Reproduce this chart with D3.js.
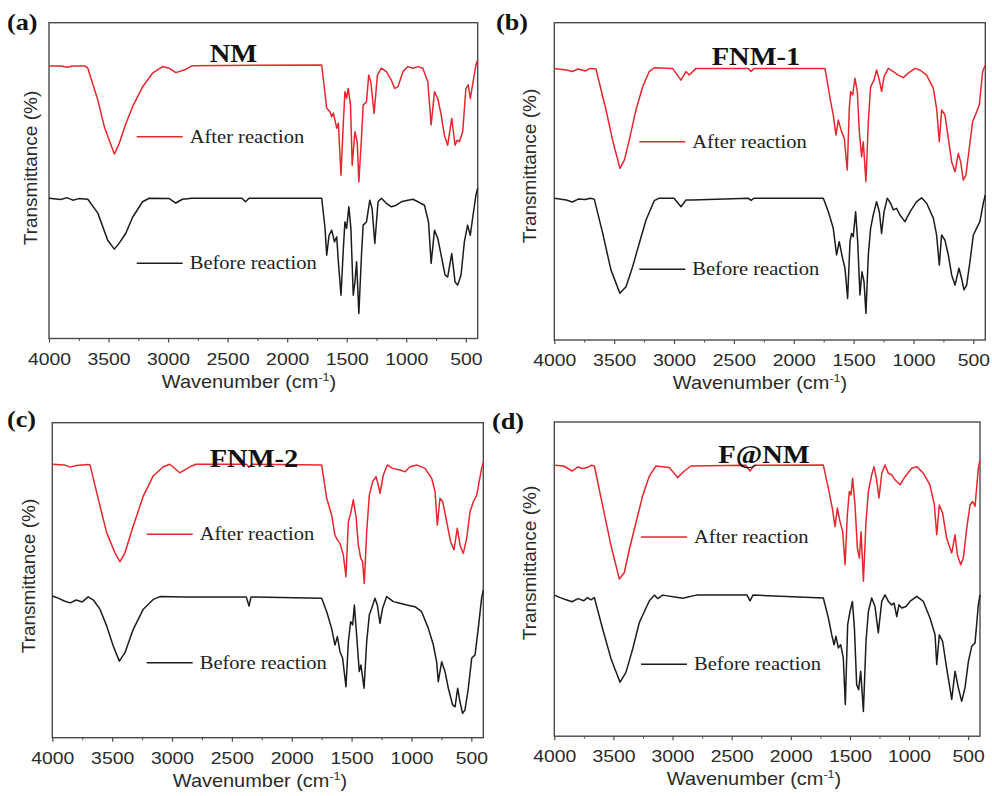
<!DOCTYPE html>
<html>
<head>
<meta charset="utf-8">
<script src="https://cdn.jsdelivr.net/npm/d3@7"></script>
<style>
  html, body { margin: 0; padding: 0; background: #fff; }
  svg { display: block; }
</style>
</head>
<body>
<svg id="chart" width="992" height="796"></svg>
<script>
// ---------------- DATA ----------------
const panelLetters = ["(a)", "(b)", "(c)", "(d)"];
const sampleNames = ["NM", "FNM-1", "FNM-2", "F@NM"];
const seriesNames = ["After reaction", "Before reaction"];
const xMajorTicks = [4000, 3500, 3000, 2500, 2000, 1500, 1000, 500];
const xMinorTicks = [3750, 3250, 2750, 2250, 1750, 1250, 750];
const xDomain = [4000, 400];
const yDomain = [0, 100];

// [wavenumber (cm-1), relative transmittance]
const nmAfter = [[4000,86.3],[3900,86.3],[3850,85.9],[3800,86.3],[3700,86.3],[3674,85.6],[3590,75.5],[3535,67.0],[3451,58.4],[3410,61.8],[3354,68.1],[3298,73.4],[3214,79.7],[3131,84.0],[3047,86.1],[2991,85.6],[2935,84.2],[2852,85.2],[2796,86.4],[1710,86.6],[1668,72.9],[1640,71.8],[1626,70.2],[1612,71.4],[1584,66.6],[1570,68.2],[1548,51.7],[1528,68.6],[1515,78.1],[1501,76.1],[1487,79.2],[1468,73.9],[1454,54.9],[1431,65.5],[1412,62.3],[1398,49.6],[1376,63.5],[1362,73.9],[1334,75.0],[1315,83.4],[1298,81.3],[1270,71.3],[1242,83.4],[1209,85.6],[1167,84.5],[1125,81.8],[1097,79.2],[1070,79.7],[1028,84.5],[986,86.1],[944,85.6],[902,86.1],[861,85.6],[819,81.3],[791,67.6],[763,78.1],[735,76.0],[707,70.8],[680,64.4],[652,61.2],[618,69.7],[590,61.2],[574,62.8],[554,62.3],[526,65.5],[499,79.2],[479,80.3],[462,76.0],[443,80.3],[415,86.6],[400,88.2]];
const nmBefore = [[4000,44.4],[3900,44.0],[3850,44.6],[3800,43.8],[3750,44.3],[3674,44.1],[3590,39.7],[3507,31.1],[3451,28.3],[3410,30.2],[3354,33.4],[3298,38.4],[3214,43.3],[3159,44.4],[2990,44.3],[2935,42.9],[2880,44.1],[2800,44.4],[2380,44.4],[2350,43.3],[2320,44.4],[1710,44.4],[1682,34.9],[1668,26.4],[1648,32.7],[1626,34.3],[1603,30.6],[1584,32.2],[1570,24.3],[1548,13.7],[1528,28.6],[1515,36.9],[1501,34.9],[1482,41.7],[1465,34.9],[1445,13.7],[1431,17.9],[1417,24.3],[1398,7.9],[1376,26.4],[1362,35.9],[1334,36.9],[1306,43.8],[1287,41.2],[1264,30.1],[1237,43.3],[1209,44.4],[1167,42.8],[1125,41.7],[1084,42.2],[1042,43.3],[986,43.8],[944,44.1],[902,43.3],[847,42.2],[813,36.9],[791,23.8],[763,34.3],[735,31.7],[707,26.4],[674,20.1],[652,19.5],[618,26.9],[590,17.9],[568,16.9],[540,20.1],[512,30.6],[485,35.9],[462,32.7],[443,38.0],[415,45.4],[400,47.6]];

const fnm1After = [[4000,85.6],[3900,85.1],[3850,84.6],[3800,85.4],[3740,84.8],[3700,85.6],[3652,85.4],[3568,72.5],[3513,63.0],[3452,54.1],[3415,56.7],[3374,63.0],[3318,72.5],[3262,79.8],[3207,84.6],[3165,85.8],[3012,85.6],[2942,81.9],[2900,84.6],[2872,83.5],[2817,85.6],[2380,85.6],[2357,84.6],[2330,85.6],[1739,85.6],[1697,76.2],[1670,70.9],[1647,64.6],[1628,69.3],[1600,65.6],[1578,63.6],[1553,53.6],[1536,73.0],[1525,78.3],[1508,77.2],[1489,82.5],[1469,78.3],[1452,65.6],[1433,57.8],[1419,62.5],[1397,49.9],[1377,68.8],[1358,79.8],[1330,81.9],[1308,85.1],[1285,81.9],[1266,78.3],[1246,83.0],[1210,85.6],[1168,84.6],[1127,83.5],[1085,82.7],[1043,84.1],[988,85.6],[946,85.1],[890,83.5],[834,79.3],[807,73.0],[784,62.5],[765,72.5],[737,70.9],[709,63.6],[681,56.2],[653,53.0],[626,58.8],[606,56.2],[584,50.4],[562,52.0],[534,60.4],[506,68.8],[478,71.4],[450,74.1],[422,84.6],[400,86.7]];
const fnm1Before = [[4000,44.7],[3900,44.1],[3850,43.5],[3800,44.4],[3740,44.3],[3700,44.7],[3666,44.4],[3596,33.7],[3527,22.1],[3452,14.7],[3401,16.8],[3346,23.1],[3290,30.5],[3234,37.8],[3165,43.9],[3123,44.7],[3000,44.7],[2942,42.0],[2900,44.1],[2845,44.1],[2380,44.7],[2357,44.0],[2330,44.7],[1753,44.7],[1711,40.4],[1670,35.2],[1642,26.8],[1620,31.0],[1592,25.7],[1572,22.6],[1550,13.1],[1530,31.0],[1517,33.6],[1503,32.6],[1483,40.4],[1466,31.0],[1447,14.2],[1430,21.5],[1413,18.4],[1397,8.4],[1377,26.8],[1358,35.2],[1336,39.4],[1308,43.6],[1285,40.4],[1266,33.6],[1246,40.4],[1219,44.7],[1191,43.1],[1168,41.0],[1141,41.5],[1113,39.4],[1071,37.3],[1029,40.4],[974,43.6],[932,44.8],[890,43.1],[834,38.4],[807,33.1],[784,23.6],[765,33.1],[737,31.5],[709,26.8],[681,20.5],[653,17.3],[620,22.6],[598,19.4],[578,15.8],[556,17.3],[528,24.7],[500,33.1],[473,35.2],[445,37.3],[417,43.1],[400,45.7]];

const fnm2After = [[4000,86.8],[3900,86.6],[3850,85.9],[3800,86.4],[3700,86.7],[3685,86.6],[3602,73.6],[3546,65.1],[3477,58.7],[3435,55.9],[3393,58.7],[3324,67.2],[3240,76.7],[3157,83.1],[3073,86.0],[3018,86.8],[2935,84.1],[2851,86.0],[2800,86.8],[2380,86.8],[2357,85.9],[2330,86.8],[1750,86.6],[1708,76.0],[1667,70.7],[1639,64.3],[1619,62.8],[1597,61.7],[1569,58.0],[1547,51.1],[1527,68.6],[1508,71.2],[1486,75.5],[1463,70.2],[1444,61.2],[1424,57.0],[1408,55.9],[1394,49.0],[1374,65.4],[1352,77.0],[1324,81.3],[1296,82.9],[1277,80.2],[1263,77.6],[1235,83.4],[1202,86.6],[1157,85.5],[1096,85.0],[1054,84.4],[1012,86.0],[957,86.6],[887,85.5],[831,82.3],[803,78.1],[784,67.5],[762,76.0],[739,74.9],[706,68.6],[673,62.2],[645,59.6],[617,66.5],[595,61.2],[567,58.5],[539,63.3],[511,71.7],[483,74.9],[455,77.0],[414,85.5],[400,87.5]];
const fnm2Before = [[4000,45.0],[3950,44.3],[3900,43.4],[3850,42.8],[3800,43.7],[3750,43.1],[3700,44.7],[3657,43.7],[3602,40.8],[3546,35.5],[3491,29.1],[3440,24.3],[3393,27.0],[3324,34.4],[3240,40.8],[3157,43.9],[3101,44.8],[2900,44.7],[2380,44.7],[2357,41.8],[2340,44.7],[1750,44.3],[1708,40.0],[1667,34.7],[1639,29.4],[1619,32.1],[1597,27.3],[1575,25.2],[1547,16.2],[1527,30.5],[1508,36.8],[1491,35.8],[1477,42.1],[1458,32.6],[1436,21.0],[1422,23.1],[1396,15.7],[1374,30.5],[1352,39.0],[1332,41.1],[1305,44.3],[1285,42.1],[1263,36.3],[1241,41.1],[1207,44.8],[1151,43.2],[1096,42.7],[1040,42.1],[971,41.6],[915,40.0],[859,34.7],[817,29.4],[790,24.1],[776,17.8],[748,24.1],[720,21.0],[692,15.7],[656,10.4],[636,9.8],[614,15.7],[595,11.4],[573,7.7],[553,8.8],[525,15.7],[497,25.2],[469,26.3],[442,34.7],[414,44.3],[400,46.9]];

const fanmAfter = [[4000,86.2],[3920,86.0],[3850,84.4],[3800,85.7],[3760,85.2],[3720,85.5],[3690,86.2],[3661,86.0],[3591,73.3],[3520,60.6],[3450,50.0],[3408,52.1],[3365,59.5],[3309,68.0],[3253,76.5],[3196,82.8],[3140,86.0],[3027,85.5],[2957,82.3],[2929,83.4],[2900,84.4],[2844,86.0],[2380,86.2],[2345,84.4],[2310,86.2],[1725,86.3],[1682,78.9],[1649,72.6],[1626,66.7],[1606,72.6],[1584,68.3],[1561,65.1],[1541,54.6],[1522,70.4],[1505,77.9],[1491,76.8],[1477,82.1],[1457,73.6],[1437,59.9],[1420,56.7],[1406,65.1],[1386,49.3],[1364,68.3],[1344,77.9],[1316,83.2],[1296,85.8],[1274,81.6],[1254,75.8],[1231,83.7],[1203,86.3],[1175,83.7],[1147,83.2],[1119,81.6],[1076,80.0],[1034,82.6],[978,85.3],[935,85.8],[879,83.7],[823,80.0],[786,73.6],[766,64.1],[744,73.6],[716,71.0],[682,63.0],[639,58.3],[611,64.1],[591,57.7],[563,54.6],[541,56.7],[512,66.2],[484,73.6],[462,74.7],[442,73.1],[414,85.3],[400,87.9]];
const fanmBefore = [[4000,44.9],[3950,44.1],[3900,43.4],[3850,42.8],[3800,43.8],[3750,43.1],[3720,44.1],[3690,43.4],[3661,44.1],[3591,34.1],[3520,24.6],[3444,17.2],[3394,20.3],[3337,27.8],[3281,36.2],[3196,43.1],[3154,44.9],[3126,43.8],[3084,44.9],[2914,43.9],[2800,44.9],[2370,44.9],[2345,43.1],[2320,44.9],[1725,44.0],[1682,37.6],[1654,32.3],[1634,29.1],[1618,31.8],[1598,28.1],[1578,29.1],[1556,24.9],[1539,10.1],[1519,35.5],[1499,39.7],[1479,42.9],[1462,34.4],[1443,16.4],[1426,14.8],[1409,20.7],[1386,7.9],[1364,30.2],[1344,39.7],[1316,44.0],[1288,41.3],[1260,32.9],[1231,42.9],[1203,45.0],[1175,42.9],[1147,41.8],[1127,42.4],[1104,38.1],[1085,41.8],[1062,40.8],[1026,41.3],[992,42.9],[935,44.5],[879,42.9],[823,37.6],[780,32.3],[766,22.8],[744,32.3],[716,30.2],[682,21.7],[639,11.7],[611,20.7],[583,15.4],[555,11.1],[527,15.4],[498,23.8],[470,28.6],[442,29.7],[414,41.8],[400,45.0]];

const afterSeries = [nmAfter, fnm1After, fnm2After, fanmAfter];
const beforeSeries = [nmBefore, fnm1Before, fnm2Before, fanmBefore];

// ---------------- LAYOUT / STYLE ----------------
const frames = [
  {x0: 49,    x1: 477.7, y0: 22.7, y1: 338.5},
  {x0: 554.3, x1: 985.3, y0: 22.7, y1: 340},
  {x0: 52.3,  x1: 483.3, y0: 422.7, y1: 737.7},
  {x0: 554.3, x1: 980,   y0: 422,  y1: 736.2}
];
const letterPos = [[7, 30], [496, 30], [7, 427], [492, 429]];
const titlePos = [[233.5, 62], [756, 65], [254, 467], [764, 463]];
const legendPos = [
  {x: 136.7, yA: 136.7, yB: 263.3},
  {x: 639.3, yA: 141.7, yB: 269.3},
  {x: 146.7, yA: 534.3, yB: 662.7},
  {x: 641,   yA: 537,   yB: 664.3}
];
const yLabelPos = [[37, 168], [536, 166], [35, 576], [536, 563]];
const xTitleX = [249, 760, 260, 754];

const RED = "#e8262d";
const BLACK = "#1c1c1c";
const FRAME = "#4a4a4a";
const SX = 1.14; // horizontal stretch of the original raster

const svg = d3.select("#chart");

frames.forEach((f, i) => {
  const x = d3.scaleLinear().domain(xDomain).range([f.x0, f.x1]);
  const y = d3.scaleLinear().domain(yDomain).range([f.y1, f.y0]);
  const g = svg.append("g");

  // frame
  g.append("rect")
    .attr("x", f.x0).attr("y", f.y0)
    .attr("width", f.x1 - f.x0).attr("height", f.y1 - f.y0)
    .attr("fill", "none").attr("stroke", FRAME).attr("stroke-width", 1.4);

  // axes
  const major = d3.axisBottom(x).tickValues(xMajorTicks).tickSize(4).tickPadding(10).tickFormat(d3.format("d"));
  const ax = g.append("g").attr("transform", `translate(0,${f.y1})`).call(major);
  ax.select(".domain").remove();
  ax.selectAll("line").attr("stroke", FRAME).attr("stroke-width", 1.2);
  ax.selectAll("text")
    .attr("fill", "#2a2a2a")
    .style("font-family", "'Liberation Sans', Arial, sans-serif")
    .style("font-size", "17px")
    .attr("transform", `scale(${SX},1)`);

  const minor = d3.axisBottom(x).tickValues(xMinorTicks).tickSize(2.5).tickFormat("");
  const mx = g.append("g").attr("transform", `translate(0,${f.y1})`).call(minor);
  mx.select(".domain").remove();
  mx.selectAll("line").attr("stroke", FRAME).attr("stroke-width", 1);

  // spectra
  const line = d3.line().x(d => x(d[0])).y(d => y(d[1]));
  g.append("path").datum(beforeSeries[i])
    .attr("d", line).attr("fill", "none").attr("stroke", BLACK)
    .attr("stroke-width", 1.5).attr("stroke-linejoin", "round");
  g.append("path").datum(afterSeries[i])
    .attr("d", line).attr("fill", "none").attr("stroke", RED)
    .attr("stroke-width", 1.5).attr("stroke-linejoin", "round");

  // panel letter
  g.append("text")
    .attr("transform", `translate(${letterPos[i][0]},${letterPos[i][1]}) scale(${SX},1)`)
    .style("font-family", "'Liberation Serif', 'Times New Roman', serif")
    .style("font-weight", "bold").style("font-size", "23px")
    .attr("fill", "#111").text(panelLetters[i]);

  // sample title
  g.append("text")
    .attr("transform", `translate(${titlePos[i][0]},${titlePos[i][1]}) scale(${SX},1)`)
    .attr("text-anchor", "middle")
    .style("font-family", "'Liberation Serif', 'Times New Roman', serif")
    .style("font-weight", "bold").style("font-size", "25px")
    .attr("fill", "#111").text(sampleNames[i]);

  // legend
  const lp = legendPos[i];
  [[lp.yA, RED, seriesNames[0]], [lp.yB, BLACK, seriesNames[1]]].forEach(([ly, col, label]) => {
    g.append("line").attr("x1", lp.x).attr("x2", lp.x + 46)
      .attr("y1", ly).attr("y2", ly).attr("stroke", col).attr("stroke-width", 1.4);
    g.append("text")
      .attr("transform", `translate(${lp.x + 53},${ly + 6}) scale(${SX},1)`)
      .style("font-family", "'Liberation Serif', 'Times New Roman', serif")
      .style("font-size", "18px").attr("fill", "#222").text(label);
  });

  // y label
  g.append("text")
    .attr("transform", `translate(${yLabelPos[i][0]},${yLabelPos[i][1]}) rotate(-90)`)
    .attr("text-anchor", "middle")
    .style("font-family", "'Liberation Sans', Arial, sans-serif")
    .style("font-size", "19px").attr("fill", "#2a2a2a")
    .text("Transmittance (%)");

  // x title
  const xt = g.append("text")
    .attr("transform", `translate(${xTitleX[i]},${f.y1 + 49}) scale(${SX},1)`)
    .attr("text-anchor", "middle")
    .style("font-family", "'Liberation Sans', Arial, sans-serif")
    .style("font-size", "17.5px").attr("fill", "#2a2a2a");
  xt.append("tspan").text("Wavenumber (cm");
  xt.append("tspan").attr("dy", -7).style("font-size", "11px").text("-1");
  xt.append("tspan").attr("dy", 7).text(")");
});
</script>
</body>
</html>
